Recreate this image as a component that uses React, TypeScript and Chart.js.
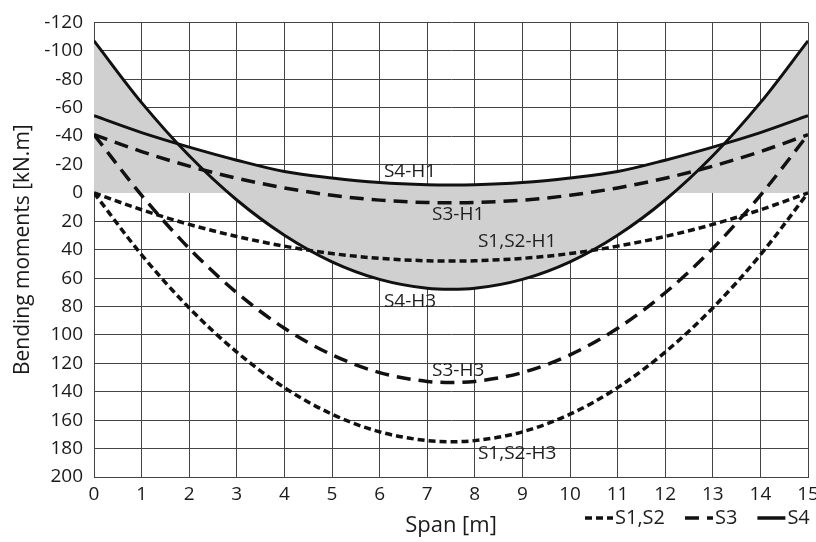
import React, { useEffect, useRef } from 'react';
import { Chart, registerables } from 'chart.js';

Chart.register(...registerables);

// Span positions [m]
const spanX = [0, 1, 2, 3, 4, 5, 6, 7, 7.5, 8, 9, 10, 11, 12, 13, 14, 15];

// Bending moments [kN.m]
const s12H1 = [0, 11.9, 22.2, 30.7, 37.5, 42.7, 46.1, 47.8, 48, 47.8, 46.1, 42.7, 37.5, 30.7, 22.2, 11.9, 0];
const s12H3 = [0, 43.6, 81, 112.1, 137.1, 155.8, 168.2, 174.4, 175.2, 174.4, 168.2, 155.8, 137.1, 112.1, 81, 43.6, 0];
const s3H1 = [-41, -29.1, -18.8, -10.3, -3.5, 1.7, 5.1, 6.8, 7, 6.8, 5.1, 1.7, -3.5, -10.3, -18.8, -29.1, -41];
const s3H3 = [-41, 1.7, 39.1, 70.3, 95.3, 114, 126.5, 132.7, 133.5, 132.7, 126.5, 114, 95.3, 70.3, 39.1, 1.7, -41];
const s4H1 = [-54.3, -42.4, -32.2, -23, -15, -10.5, -7.3, -5.7, -5.5, -5.7, -7.3, -10.5, -15, -23, -32.2, -42.4, -54.3];
const s4H3 = [-107, -63.5, -26.1, 5, 29.8, 48.5, 60.9, 67.2, 67.9, 67.2, 60.9, 48.5, 29.8, 5, -26.1, -63.5, -107];

// Curve annotations (text, x [m], y [kN.m])
const curveLabels = ['S4-H1', 'S3-H1', 'S1,S2-H1', 'S4-H3', 'S3-H3', 'S1,S2-H3'];
const curveLabelX = [6.64, 7.65, 8.89, 6.64, 7.65, 8.89];
const curveLabelY = [-15.2, 15.4, 34.2, 76.7, 125.4, 183.8];

// Legend
const legendLabels = ['S1,S2', 'S3', 'S4'];

const FONT = '"Open Sans", "DejaVu Sans", sans-serif';
const SHORT_DASH = [7, 4];
const LONG_DASH = [14, 8];
const legendDashes = [SHORT_DASH, LONG_DASH, []];

const pts = (ys: number[]) => spanX.map((x, i) => ({ x, y: ys[i] }));

export default function App() {
  const ref = useRef<HTMLCanvasElement | null>(null);

  useEffect(() => {
    if (!ref.current) return;

    const labelsPlugin = {
      id: 'curveLabels',
      afterDraw(chart: any) {
        const { ctx, scales } = chart;
        ctx.save();
        ctx.fillStyle = '#1e1e1e';
        ctx.font = `19px ${FONT}`;
        ctx.textAlign = 'center';
        ctx.textBaseline = 'middle';
        curveLabels.forEach((t, i) => {
          ctx.fillText(t, scales.x.getPixelForValue(curveLabelX[i]), scales.y.getPixelForValue(curveLabelY[i]));
        });
        // legend
        const y = chart.chartArea.bottom + 41;
        let x = chart.chartArea.right - 223;
        ctx.textAlign = 'left';
        ctx.font = `20px ${FONT}`;
        legendLabels.forEach((t, i) => {
          ctx.beginPath();
          ctx.setLineDash(legendDashes[i]);
          ctx.lineWidth = 3.5;
          ctx.strokeStyle = '#111';
          ctx.moveTo(x, y);
          ctx.lineTo(x + 28, y);
          ctx.stroke();
          ctx.setLineDash([]);
          x += 30;
          ctx.fillText(t, x, y);
          x += ctx.measureText(t).width + 20;
        });
        ctx.restore();
      },
    };

    const chart = new Chart(ref.current, {
      type: 'line',
      data: {
        datasets: [
          { label: 'S1,S2-H1', data: pts(s12H1), borderColor: '#111', borderWidth: 3.5, borderDash: SHORT_DASH, fill: false },
          { label: 'S1,S2-H3', data: pts(s12H3), borderColor: '#111', borderWidth: 3.5, borderDash: SHORT_DASH, fill: false },
          { label: 'S3-H1', data: pts(s3H1), borderColor: '#111', borderWidth: 3.5, borderDash: LONG_DASH, fill: false },
          { label: 'S3-H3', data: pts(s3H3), borderColor: '#111', borderWidth: 3.5, borderDash: LONG_DASH, fill: false },
          { label: 'S4-H1', data: pts(s4H1), borderColor: '#111', borderWidth: 3, fill: 'origin', backgroundColor: '#d0d0d0' },
          { label: 'S4-H3', data: pts(s4H3), borderColor: '#111', borderWidth: 3, fill: 'origin', backgroundColor: '#d0d0d0' },
        ] as any,
      },
      options: {
        animation: false,
        responsive: false,
        layout: { padding: { top: 17, right: 8, left: 0, bottom: 0 } },
        elements: { point: { radius: 0 }, line: { tension: 0.4, cubicInterpolationMode: 'monotone' } },
        plugins: {
          legend: { display: false },
          tooltip: { enabled: false },
          filler: { drawTime: 'beforeDatasetsDraw' },
        } as any,
        scales: {
          x: {
            type: 'linear',
            min: 0,
            max: 15,
            z: 1,
            grid: { color: '#444', lineWidth: 1, drawTicks: false },
            border: { color: '#444', width: 1 },
            ticks: { stepSize: 1, padding: 6, color: '#1a1a1a', font: { family: FONT, size: 19 } },
            title: { display: true, text: 'Span [m]', color: '#1a1a1a', font: { family: FONT, size: 22 }, padding: { top: 0, bottom: 3 } },
            afterFit: (s: any) => { s.height = 65; s.paddingRight = 0; s.paddingLeft = 0; },
          },
          y: {
            type: 'linear',
            reverse: true,
            min: -120,
            max: 200,
            z: 1,
            grid: { color: '#444', lineWidth: 1, drawTicks: false },
            border: { color: '#444', width: 1 },
            ticks: { stepSize: 20, padding: 11, color: '#1a1a1a', font: { family: FONT, size: 19 } },
            title: { display: true, text: 'Bending moments [kN.m]', color: '#1a1a1a', font: { family: FONT, size: 21 }, padding: { top: 10, bottom: 0 } },
            afterFit: (s: any) => { s.width = 94; },
          },
        } as any,
      },
      plugins: [labelsPlugin],
    });

    return () => chart.destroy();
  }, []);

  return (
    <div style={{ position: 'fixed', left: 0, top: 0, width: 816, height: 542, background: '#fff' }}>
      <canvas ref={ref} width={816} height={542} />
    </div>
  );
}
